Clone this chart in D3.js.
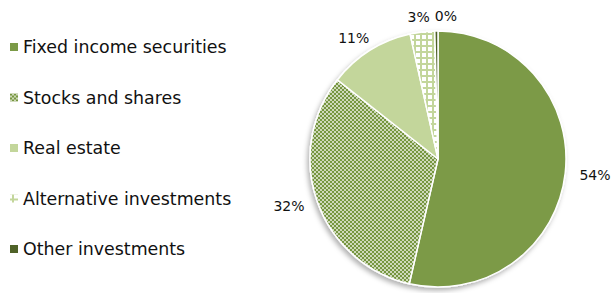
<!DOCTYPE html>
<html>
<head>
<meta charset="utf-8">
<script src="https://cdn.jsdelivr.net/npm/d3@7"></script>
<style>
  body { margin: 0; background: #fff; }
  text { font-family: "DejaVu Sans", Verdana, sans-serif; fill: #111; }
</style>
</head>
<body>
<div id="chart"></div>
<script>
(function chart() {

    // chart data
    const categories = ["Fixed income securities", "Stocks and shares", "Real estate", "Alternative investments", "Other investments"];
    const shares = [53.6, 32.0, 10.9, 3.1, 0.4];
    const fills = ["#7b9a47", "url(#checker)", "#c3d69b", "url(#grid)", "#4f6228"];

    const WIDTH = 611;
    const HEIGHT = 293;
    const cx = 438, cy = 159, R = 128;

    const svg = d3.select("#chart").append("svg")
        .attr("width", WIDTH)
        .attr("height", HEIGHT);

    const defs = svg.append("defs");

    // small checkerboard used for stocks
    const checker = defs.append("pattern")
        .attr("id", "checker")
        .attr("patternUnits", "userSpaceOnUse")
        .attr("width", 4).attr("height", 4);
    checker.append("rect").attr("width", 4).attr("height", 4).attr("fill", "#76963f");
    checker.append("rect").attr("x", 0.2).attr("y", 0.2).attr("width", 1.6).attr("height", 1.6).attr("fill", "#fff");
    checker.append("rect").attr("x", 2.2).attr("y", 2.2).attr("width", 1.6).attr("height", 1.6).attr("fill", "#fff");

    // light grid used for alternative investments
    const grid = defs.append("pattern")
        .attr("id", "grid")
        .attr("patternUnits", "userSpaceOnUse")
        .attr("width", 6).attr("height", 6);
    grid.append("rect").attr("width", 6).attr("height", 6).attr("fill", "#fff");
    grid.append("rect").attr("width", 6).attr("height", 2).attr("fill", "#c3d69b");
    grid.append("rect").attr("width", 2).attr("height", 6).attr("fill", "#c3d69b");

    const shadow = defs.append("filter").attr("id", "shadow")
        .attr("x", "-10%").attr("y", "-10%").attr("width", "120%").attr("height", "120%");
    shadow.append("feDropShadow")
        .attr("dx", -2).attr("dy", 3).attr("stdDeviation", 2.5)
        .attr("flood-color", "#000").attr("flood-opacity", 0.3);

    // pie
    const pie = d3.pie().sort(null).value(d => d)(shares);
    const arc = d3.arc().innerRadius(0).outerRadius(R);

    const g = svg.append("g").attr("transform", `translate(${cx},${cy})`);
    g.append("g").attr("filter", "url(#shadow)")
        .selectAll("path")
        .data(pie)
        .join("path")
        .attr("d", arc)
        .attr("fill", (d, i) => fills[i])
        .attr("stroke", "#fff")
        .attr("stroke-width", 1.5)
        .attr("stroke-linejoin", "round");

    // outside labels on an ellipse round the pie
    const rx = 158, ry = 143;
    const labels = g.selectAll("text.pct")
        .data(pie)
        .join("text")
        .attr("class", "pct")
        .attr("text-anchor", "middle")
        .attr("dy", "0.35em")
        .style("font-size", "14px")
        .text(d => Math.round(d.data) + "%");

    const boxes = [];
    labels.each(function(d) {
        const a = (d.startAngle + d.endAngle) / 2;
        let x = Math.sin(a) * rx;
        const y = -Math.cos(a) * ry;
        const w = this.getComputedTextLength();
        // push right if it runs into the previous label
        const prev = boxes[boxes.length - 1];
        if (prev && Math.abs(prev.y - y) < 12 && x - w / 2 < prev.x + prev.w / 2 + 5) {
            x = prev.x + prev.w / 2 + 5 + w / 2;
        }
        boxes.push({ x, y, w });
        d3.select(this).attr("x", x).attr("y", y);
    });

    // legend
    const legendY = d3.scalePoint().domain(categories).range([47, 249]);
    const legend = svg.append("g").selectAll("g")
        .data(categories)
        .join("g")
        .attr("transform", d => `translate(0,${legendY(d)})`);

    legend.append("rect")
        .attr("x", 10).attr("y", -4)
        .attr("width", 8).attr("height", 8)
        .attr("fill", (d, i) => fills[i]);

    legend.append("text")
        .attr("x", 23)
        .attr("dy", "0.35em")
        .style("font-size", "17.4px")
        .text(d => d);

})();
</script>
</body>
</html>
